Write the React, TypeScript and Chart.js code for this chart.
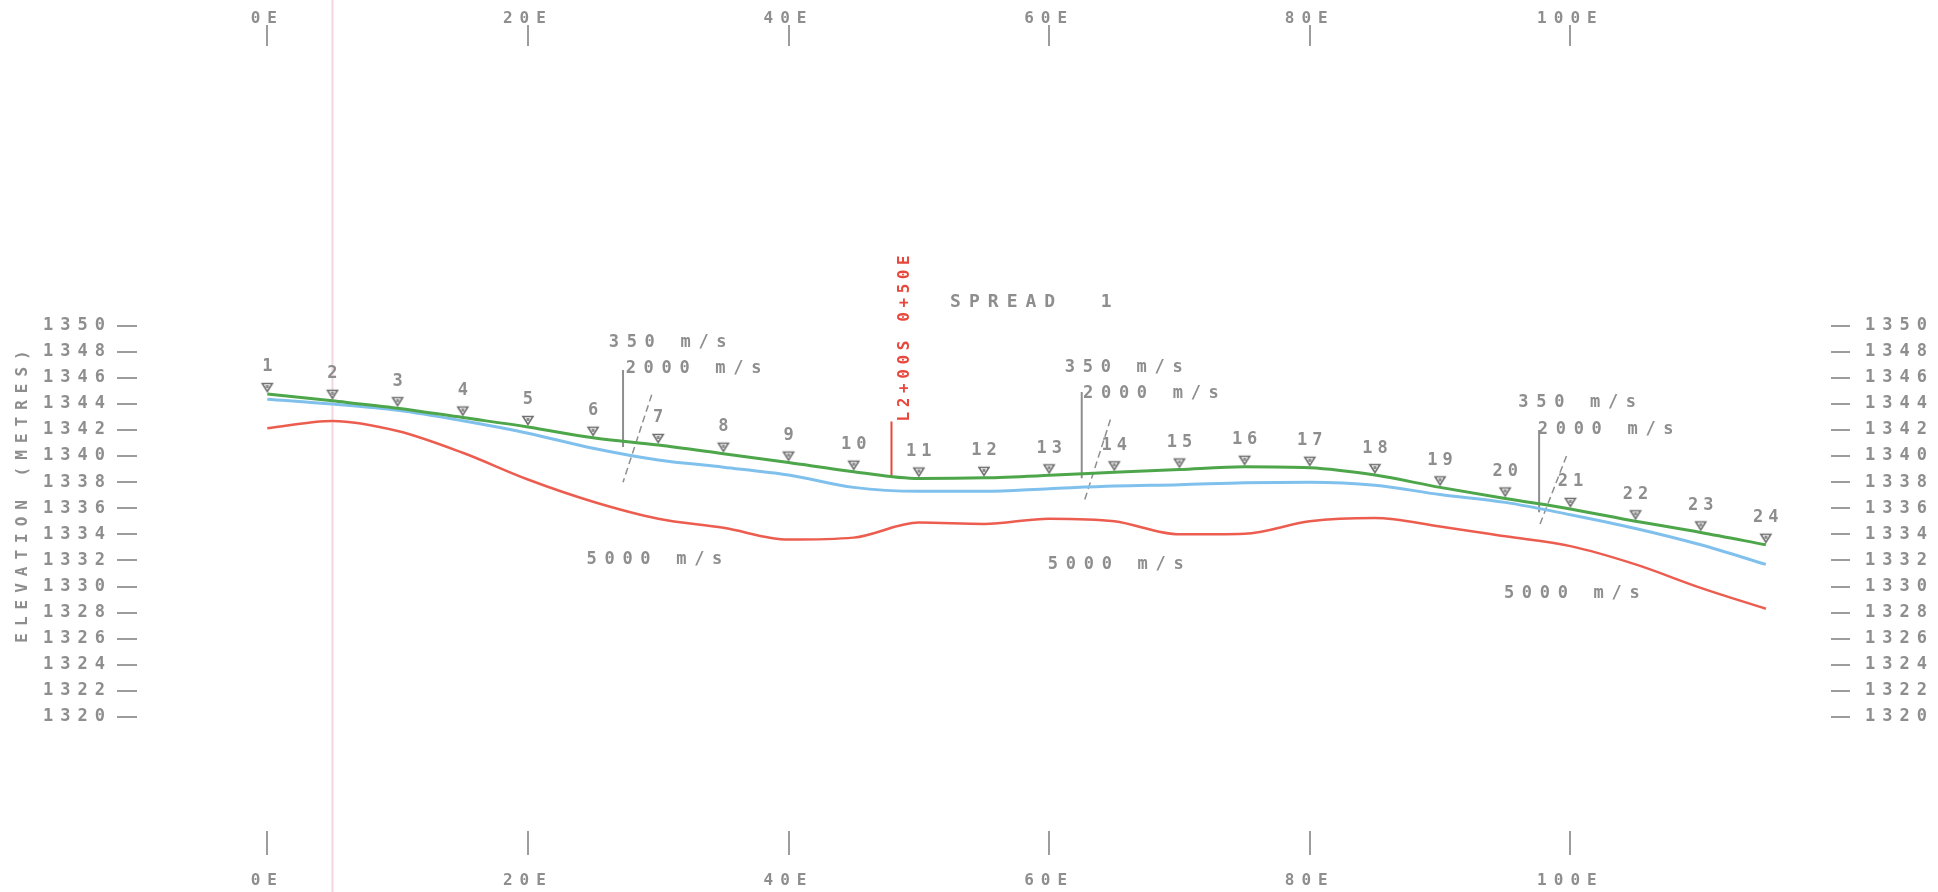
import React, { useEffect, useRef } from 'react';
import { Chart, registerables } from 'chart.js';

Chart.register(...registerables);

// Geophone stations along the spread (offset in metres east)
const stationNumbers = [1, 2, 3, 4, 5, 6, 7, 8, 9, 10, 11, 12, 13, 14, 15, 16, 17, 18, 19, 20, 21, 22, 23, 24];
const stationOffsets = [0, 5, 10, 15, 20, 25, 30, 35, 40, 45, 50, 55, 60, 65, 70, 75, 80, 85, 90, 95, 100, 105, 110, 115];

// Ground surface elevation at each station (m)
const surfaceElevation = [
  1344.75, 1344.23, 1343.67, 1342.95, 1342.23, 1341.4, 1340.85, 1340.18, 1339.5, 1338.8, 1338.28, 1338.33,
  1338.52, 1338.75, 1338.97, 1339.18, 1339.1, 1338.54, 1337.6, 1336.75, 1335.95, 1335.0, 1334.15, 1333.2,
];
// Top of the 2000 m/s layer (m)
const refractor2000 = [
  1344.36, 1343.98, 1343.5, 1342.7, 1341.75, 1340.6, 1339.7, 1339.15, 1338.55, 1337.6, 1337.3, 1337.3,
  1337.5, 1337.7, 1337.8, 1337.95, 1338.0, 1337.77, 1337.05, 1336.45, 1335.5, 1334.45, 1333.2, 1331.7,
];
// Top of the 5000 m/s refractor (m)
const refractor5000 = [
  1342.13, 1342.69, 1341.92, 1340.25, 1338.2, 1336.5, 1335.2, 1334.5, 1333.6, 1333.75, 1334.9, 1334.8,
  1335.2, 1335.0, 1334.0, 1334.05, 1335.0, 1335.25, 1334.6, 1333.85, 1333.1, 1331.7, 1329.9, 1328.3,
];

// Axis ticks
const xTickValues = [0, 20, 40, 60, 80, 100];
const xTickLabels = ['0E', '20E', '40E', '60E', '80E', '100E'];
const yTickValues = [1320, 1322, 1324, 1326, 1328, 1330, 1332, 1334, 1336, 1338, 1340, 1342, 1344, 1346, 1348, 1350];
const xRange = [-10, 120];
const yRange = [1311.27, 1371.42];

// Velocity annotation groups: text, anchor offset (m) and elevation (m)
const velocityText = ['350 m/s', '2000 m/s', '5000 m/s'];
const velocityLabelX = [
  [26.2, 27.5, 24.5],
  [61.2, 62.6, 59.9],
  [96.0, 97.5, 94.9],
];
const velocityLabelY = [
  [1348.66, 1346.72, 1332.03],
  [1346.78, 1344.75, 1331.69],
  [1344.08, 1342.05, 1329.48],
];

// Layer boundary markers (vertical stem + dashed slant)
const markerOffsets = [27.3, 62.5, 97.6];
const markerTop = [1346.6, 1344.9, 1342.0];
const markerBottom = [1340.7, 1338.3, 1335.7];
const slantTopX = [29.5, 64.7, 99.7];
const slantTopY = [1344.7, 1342.8, 1340.0];
const slantBottomX = [27.3, 62.65, 97.6];
const slantBottomY = [1338.0, 1336.4, 1334.6];

// Crossing line L2+00S at 0+50E
const crossingLabel = 'L2+00S 0+50E';
const crossingOffset = 47.9;
const crossingTop = 1342.65;
const crossingBottom = 1338.35;

// Traverse reference line
const traverseOffset = 5.0;

const spreadTitle = 'SPREAD  1';
const spreadX = 52.4;
const spreadY = 1351.8;

const axisTitle = 'ELEVATION (METRES)';
const axisTitleElevation = 1336.9;

const GRAY = '#8e8e8e';
const TICK = '#9c9c9c';
const GREEN = '#4ea64b';
const BLUE = '#80c0ec';
const RED = '#ec5d50';
const LABEL_RED = '#e8473b';
const FONT = '"DejaVu Sans Mono", "Liberation Mono", monospace';

function makeStationMarker(): HTMLCanvasElement {
  const c = document.createElement('canvas');
  c.width = 16;
  c.height = 28;
  const g = c.getContext('2d')!;
  g.strokeStyle = '#6f6f6f';
  g.lineWidth = 1.6;
  g.beginPath();
  g.moveTo(3, 3.5);
  g.lineTo(13, 3.5);
  g.lineTo(8, 11.5);
  g.closePath();
  g.stroke();
  g.fillStyle = '#8a8a8a';
  g.fillRect(6.5, 5, 3, 3);
  return c;
}

const profilePlugin = {
  id: 'profileAnnotations',
  beforeDraw(chart: any) {
    // plotter-style wide spacing for the axis tick labels
    chart.ctx.letterSpacing = '7px';
  },
  beforeDatasetsDraw(chart: any) {
    const ctx = chart.ctx;
    const px = chart.scales.x.getPixelForValue(traverseOffset);
    ctx.save();
    ctx.strokeStyle = 'rgba(232,176,190,0.5)';
    ctx.lineWidth = 2;
    ctx.beginPath();
    ctx.moveTo(px, 0);
    ctx.lineTo(px, chart.height);
    ctx.stroke();
    ctx.restore();
  },
  afterDraw(chart: any) {
    const ctx = chart.ctx;
    const xs = chart.scales.x;
    const ys = chart.scales.y;
    ctx.save();
    ctx.textBaseline = 'middle';

    // station numbers above the geophone markers
    ctx.fillStyle = GRAY;
    ctx.font = `bold 17px ${FONT}`;
    ctx.letterSpacing = '5px';
    ctx.textAlign = 'center';
    const meta = chart.getDatasetMeta(0);
    meta.data.forEach((pt: any, i: number) => {
      ctx.fillText(String(stationNumbers[i]), pt.x + 2.5, pt.y - 27);
    });

    // velocity labels
    ctx.font = `bold 17px ${FONT}`;
    ctx.letterSpacing = '7.7px';
    ctx.textAlign = 'left';
    velocityLabelX.forEach((row, g) => {
      row.forEach((vx, k) => {
        ctx.fillText(velocityText[k], xs.getPixelForValue(vx), ys.getPixelForValue(velocityLabelY[g][k]));
      });
    });

    // spread title
    ctx.font = `bold 18px ${FONT}`;
    ctx.letterSpacing = '8px';
    ctx.fillText(spreadTitle, xs.getPixelForValue(spreadX), ys.getPixelForValue(spreadY));

    // crossing line label, reading upward
    ctx.save();
    ctx.fillStyle = LABEL_RED;
    ctx.font = `bold 16px ${FONT}`;
    ctx.letterSpacing = '4.6px';
    ctx.translate(xs.getPixelForValue(crossingOffset) + 13, ys.getPixelForValue(crossingTop));
    ctx.rotate(-Math.PI / 2);
    ctx.textAlign = 'left';
    ctx.fillText(crossingLabel, 0, 0);
    ctx.restore();

    // vertical axis title
    ctx.save();
    ctx.fillStyle = GRAY;
    ctx.font = `bold 16px ${FONT}`;
    ctx.letterSpacing = '7px';
    ctx.translate(23, ys.getPixelForValue(axisTitleElevation));
    ctx.rotate(-Math.PI / 2);
    ctx.textAlign = 'center';
    ctx.fillText(axisTitle, 3.5, 0);
    ctx.restore();

    ctx.restore();
  },
};

const pts = (ys: number[]) => stationOffsets.map((x, i) => ({ x, y: ys[i] }));

export default function App() {
  const ref = useRef<HTMLCanvasElement>(null);

  useEffect(() => {
    const canvas = ref.current;
    if (!canvas) return;
    const marker = makeStationMarker();

    const boundaryStems = markerOffsets.map((mx, i) => ({
      data: [
        { x: mx, y: markerTop[i] },
        { x: mx, y: markerBottom[i] },
      ],
      borderColor: GRAY,
      borderWidth: 2,
      pointRadius: 0,
      tension: 0,
    }));
    const boundarySlants = slantTopX.map((sx, i) => ({
      data: [
        { x: sx, y: slantTopY[i] },
        { x: slantBottomX[i], y: slantBottomY[i] },
      ],
      borderColor: GRAY,
      borderWidth: 1.5,
      borderDash: [7, 4],
      pointRadius: 0,
      tension: 0,
    }));

    const xTickFont = { family: FONT, size: 16, weight: 'bold', lineHeight: 1 };
    const yTickFont = { family: FONT, size: 17, weight: 'bold', lineHeight: 1 };

    const chart = new Chart(canvas, {
      type: 'line',
      data: {
        datasets: [
          {
            label: 'Ground surface',
            data: pts(surfaceElevation),
            borderColor: GREEN,
            borderWidth: 3,
            pointStyle: marker as any,
            pointRadius: 3,
            cubicInterpolationMode: 'monotone',
          },
          {
            label: '2000 m/s',
            data: pts(refractor2000),
            borderColor: BLUE,
            borderWidth: 3,
            pointRadius: 0,
            cubicInterpolationMode: 'monotone',
          },
          {
            label: '5000 m/s',
            data: pts(refractor5000),
            borderColor: RED,
            borderWidth: 2.5,
            pointRadius: 0,
            cubicInterpolationMode: 'monotone',
          },
          {
            label: crossingLabel,
            data: [
              { x: crossingOffset, y: crossingTop },
              { x: crossingOffset, y: crossingBottom },
            ],
            borderColor: LABEL_RED,
            borderWidth: 2,
            pointRadius: 0,
            tension: 0,
          },
          ...boundaryStems,
          ...boundarySlants,
        ] as any,
      },
      options: {
        responsive: false,
        animation: false,
        devicePixelRatio: 1,
        layout: { padding: 0 },
        plugins: { legend: { display: false }, tooltip: { enabled: false } },
        scales: {
          x: {
            type: 'linear',
            position: 'bottom',
            min: xRange[0],
            max: xRange[1],
            afterBuildTicks: (s: any) => {
              s.ticks = xTickValues.map((v) => ({ value: v }));
            },
            afterFit: (s: any) => {
              s.height = 61;
            },
            border: { display: false },
            grid: { drawOnChartArea: false, drawTicks: true, tickLength: 24, color: TICK, lineWidth: 2 },
            ticks: {
              autoSkip: false,
              maxRotation: 0,
              padding: 18,
              color: GRAY,
              font: xTickFont,
              callback: (_v: any, i: number) => xTickLabels[i],
            },
          },
          xTop: {
            type: 'linear',
            position: 'top',
            min: xRange[0],
            max: xRange[1],
            afterBuildTicks: (s: any) => {
              s.ticks = xTickValues.map((v) => ({ value: v }));
            },
            afterFit: (s: any) => {
              s.height = 46;
            },
            border: { display: false },
            grid: { drawOnChartArea: false, drawTicks: true, tickLength: 21, color: TICK, lineWidth: 2 },
            ticks: {
              autoSkip: false,
              maxRotation: 0,
              padding: -2,
              color: GRAY,
              font: xTickFont,
              callback: (_v: any, i: number) => xTickLabels[i],
            },
          },
          y: {
            type: 'linear',
            position: 'left',
            min: yRange[0],
            max: yRange[1],
            afterBuildTicks: (s: any) => {
              s.ticks = yTickValues.map((v) => ({ value: v }));
            },
            afterFit: (s: any) => {
              s.width = 137;
            },
            border: { display: false },
            grid: { drawOnChartArea: false, drawTicks: true, tickLength: 20, color: TICK, lineWidth: 2 },
            ticks: {
              padding: 5,
              color: GRAY,
              font: yTickFont,
              callback: (v: any) => String(v),
            },
          },
          yRight: {
            type: 'linear',
            position: 'right',
            min: yRange[0],
            max: yRange[1],
            afterBuildTicks: (s: any) => {
              s.ticks = yTickValues.map((v) => ({ value: v }));
            },
            afterFit: (s: any) => {
              s.width = 107;
            },
            border: { display: false },
            grid: { drawOnChartArea: false, drawTicks: true, tickLength: 19, color: TICK, lineWidth: 2 },
            ticks: {
              padding: 15,
              color: GRAY,
              font: yTickFont,
              callback: (v: any) => String(v),
            },
          },
        },
      } as any,
      plugins: [profilePlugin],
    });

    return () => chart.destroy();
  }, []);

  return (
    <div style={{ position: 'fixed', left: 0, top: 0, width: 1938, height: 892, background: '#fff' }}>
      <canvas ref={ref} width={1938} height={892} style={{ display: 'block', width: 1938, height: 892 }} />
    </div>
  );
}
